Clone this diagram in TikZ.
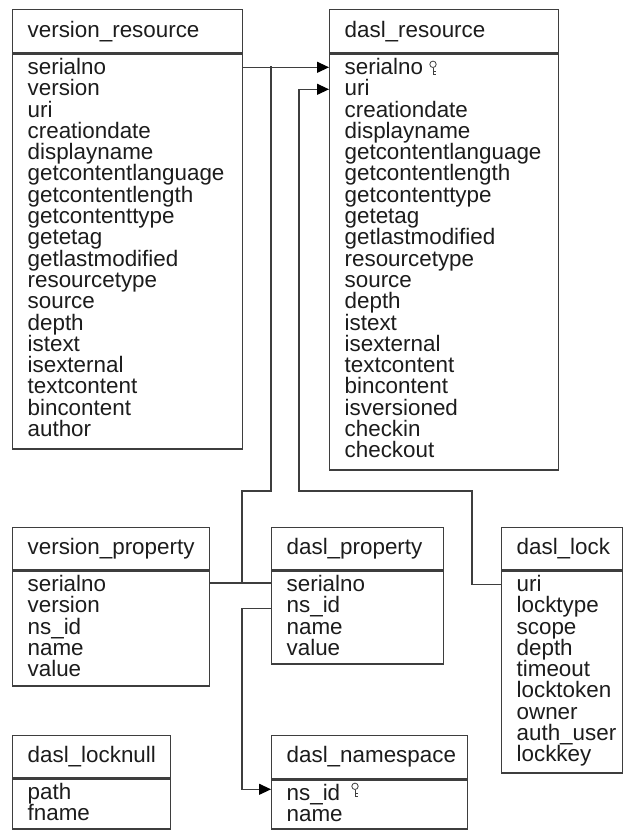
\documentclass[tikz,border=0pt]{standalone}
\usepackage{fontspec}
\setmainfont{Liberation Sans}
\usetikzlibrary{arrows.meta,calc}

\definecolor{boxc}{RGB}{62,62,62}
\definecolor{txtc}{RGB}{28,28,28}

\tikzset{
  tblhead/.style={draw=boxc, line width=1.3pt, anchor=north west, inner xsep=15pt, inner ysep=0pt,
    minimum height=42pt, align=left, text=txtc, font=\fontsize{22.4}{21.3}\selectfont},
  tblbody/.style={draw=boxc, line width=1.3pt, anchor=north west, inner xsep=15pt, inner ysep=0pt,
    align=left, text height=20.5pt, text=txtc, font=\fontsize{22.4}{21.3}\selectfont},
  link/.style={draw=boxc, line width=1.2pt},
  arr/.style={link, -{Triangle[length=12pt, width=11pt, color=black]}},
  keyico/.pic={
    \draw[line width=0.8pt, boxc] (0,0) circle [radius=3.2];
    \draw[line width=0.8pt, boxc] (0,3.2) -- (0,10) (0,7) -- (2.6,7) (0,10) -- (2.6,10);
  }
}

\begin{document}
\begin{tikzpicture}[x=1pt, y=-1pt]
  \useasboundingbox (0,0) rectangle (632,831);

  % upper tables
  \node[tblhead, minimum height=43pt, text width=200pt] (vrh) at (12,9) {version\_resource};
  \node[tblbody, text width=200pt, text depth=374.5pt] (vrb) at (vrh.south west)
    {serialno\\version\\uri\\creationdate\\displayname\\getcontentlanguage\\getcontentlength\\getcontenttype\\getetag\\getlastmodified\\resourcetype\\source\\depth\\istext\\isexternal\\textcontent\\bincontent\\author};

  \node[tblhead, minimum height=43pt, text width=199pt] (drh) at (329,9) {dasl\_resource};
  \node[tblbody, text width=199pt, text depth=395.5pt] (drb) at (drh.south west)
    {serialno\\uri\\creationdate\\displayname\\getcontentlanguage\\getcontentlength\\getcontenttype\\getetag\\getlastmodified\\resourcetype\\source\\depth\\istext\\isexternal\\textcontent\\bincontent\\isversioned\\checkin\\checkout};
  \pic at ($(drb.north west)+(104,11)$) {keyico};

  % middle tables
  \node[tblhead, text width=167pt] (vph) at (12,527) {version\_property};
  \node[tblbody, text width=167pt, text depth=94.5pt] (vpb) at (vph.south west)
    {serialno\\version\\ns\_id\\name\\value};

  \node[tblhead, text width=142pt] (dph) at (271,527) {dasl\_property};
  \node[tblbody, text width=142pt, text depth=72.5pt] (dpb) at (dph.south west)
    {serialno\\ns\_id\\name\\value};

  \node[tblhead, text width=91pt] (dlh) at (501,527) {dasl\_lock};
  \node[tblbody, text width=91pt, text depth=181.5pt] (dlb) at (dlh.south west)
    {uri\\locktype\\scope\\depth\\timeout\\locktoken\\owner\\auth\_user\\lockkey};

  % lower tables
  \node[tblhead, text width=128pt] (dnlh) at (12,735) {dasl\_locknull};
  \node[tblbody, text width=128pt, text depth=29.5pt] (dnlb) at (dnlh.south west)
    {path\\fname};

  \node[tblhead, minimum height=43pt, text width=166pt] (dnsh) at (271,735) {dasl\_namespace};
  \node[tblbody, text width=166pt, text depth=28.5pt] (dnsb) at (dnsh.south west)
    {ns\_id\\name};
  \pic at ($(dnsb.north west)+(84,7)$) {keyico};

  % row points and bends
  \coordinate (vrs) at ($(vrb.north east)+(0,14)$);
  \coordinate (drs) at ($(drb.north west)+(0,14)$);
  \coordinate (dru) at ($(drb.north west)+(0,36)$);
  \coordinate (dlu) at ($(dlb.north west)+(0,14)$);
  \coordinate (dpn) at ($(dpb.north west)+(0,38)$);
  \coordinate (dnn) at ($(dnsb.north west)+(0,10)$);
  \coordinate (ja) at (271,66);
  \coordinate (jb) at (242,491);
  \coordinate (jc) at (242,583);
  \coordinate (kb) at (472,491);
  \coordinate (kc) at (299,491);

  % serialno links
  \draw[arr] (vrs) -- (drs);
  \draw[link] (ja) |- (jb) -- (jc);
  \draw[link] (vpb.east |- jc) -- (dpb.west |- jc);

  % uri link
  \draw[arr] (dlu) -| (kb) -- (kc) |- (dru);

  % ns_id link
  \draw[arr] (dpn) -- (dpn -| jb) |- (dnn);
\end{tikzpicture}
\end{document}
